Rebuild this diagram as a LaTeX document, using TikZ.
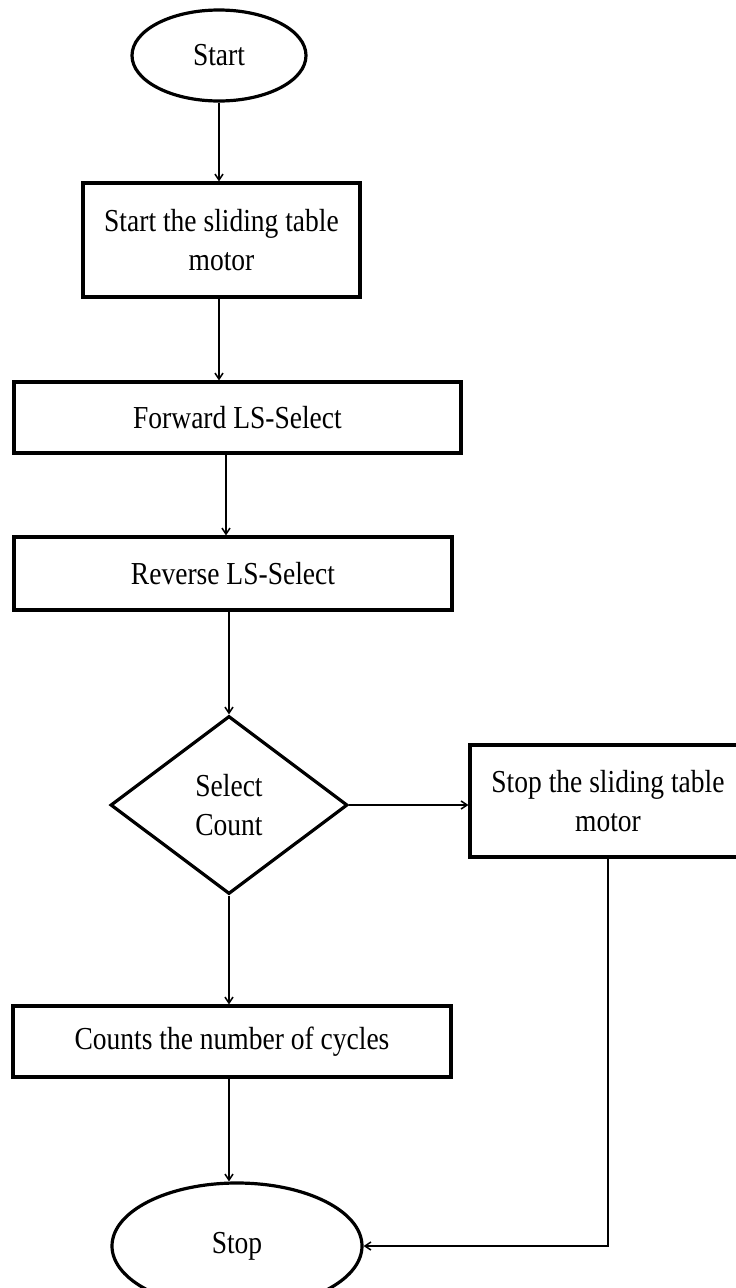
\documentclass[tikz,border=0pt]{standalone}
\usepackage{fontspec}
\setmainfont[FakeStretch=0.86]{Liberation Serif}
\usetikzlibrary{shapes.geometric,arrows.meta}
\begin{document}
\begin{tikzpicture}[x=1pt,y=-1pt,
  every node/.style={font=\fontsize{32}{38.5}\selectfont, inner sep=0pt, align=center},
  procbox/.style={draw, rectangle, line width=3.2pt},
  termnode/.style={draw, ellipse, line width=3.2pt},
  decnode/.style={draw, diamond, line width=3.2pt},
  conn/.style={line width=1.5pt, -{Straight Barb[length=6pt,width=8pt]}},
  plainconn/.style={line width=1.5pt}]
\useasboundingbox (0,0) rectangle (736,1288);
\clip (0,0) rectangle (736,1288);
\fill[white] (0,0) rectangle (736,1288);
\node[termnode, minimum width=174pt, minimum height=91pt] (start) at (219,55.5) {Start};
\node[procbox, minimum width=277pt, minimum height=114pt] (box1) at (221.5,240) {Start the sliding table\\motor};
\node[procbox, minimum width=447pt, minimum height=71pt] (fwd) at (237.5,417.5) {Forward LS-Select};
\node[procbox, minimum width=438pt, minimum height=73pt] (rev) at (233,573.5) {Reverse LS-Select};
\node[decnode, minimum width=237pt, minimum height=178pt] (dec) at (229,805) {Select\\Count};
\node[procbox, minimum width=276pt, minimum height=112pt] (stopbox) at (608,801) {Stop the sliding table\\motor};
\node[procbox, minimum width=438pt, minimum height=71pt] (count) at (232,1041.5) {Counts the number of cycles};
\node[termnode, minimum width=250pt, minimum height=126pt] (stop) at (237,1246) {Stop};
\draw[conn] (start.south) -- (start.south |- box1.north);
\draw[conn] (start.south |- box1.south) -- (start.south |- fwd.north);
\draw[conn] ([xshift=-11.5pt]fwd.south) -- ([xshift=-11.5pt]fwd.south |- rev.north);
\draw[conn] (dec.north |- rev.south) -- (dec.north);
\draw[conn] (dec.east) -- (dec.east -| stopbox.west);
\draw[conn] (dec.south) -- (dec.south |- count.north);
\draw[conn] (dec.south |- count.south) -- (dec.south |- stop.north);
\draw[conn] (stopbox.south) -- (stopbox.south |- stop.east) -- (stop.east);
\end{tikzpicture}
\end{document}
